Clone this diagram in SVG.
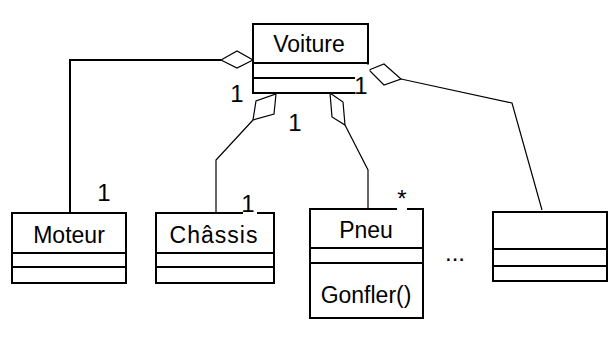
<svg xmlns="http://www.w3.org/2000/svg" width="616" height="338" viewBox="0 0 616 338">
<style>
.box{fill:#fff;stroke:#000;stroke-width:2}
.div{stroke:#000;stroke-width:2;fill:none}
.name{font-family:"Liberation Sans",Arial,sans-serif;font-size:23px;fill:#000;text-anchor:middle}
.lbl{font-family:"Liberation Sans",Arial,sans-serif;font-size:24px;fill:#000;text-anchor:middle}
.bg{fill:#fff;stroke:none}
.con{fill:none;stroke:#000;stroke-width:1.2}
.conb{fill:none;stroke:#000;stroke-width:2}
.dia{fill:#fff;stroke:#000;stroke-width:1.2}
</style>
<rect width="616" height="338" fill="#fff"/>
<g id="connectors">
<polyline class="conb" points="221,60 70,60 70,213"/>
<polygon class="dia" points="221,60 237,51 253,60 237,68"/>
<polyline class="con" points="253,120 216,160 216,213"/>
<polygon class="dia" points="276,94 274,114 253,120 256,101"/>
<polyline class="con" points="345,125 368,170 368,209"/>
<polygon class="dia" points="330,93 343,102 345,125 332,117"/>
<polyline class="con" points="401,79 512,103 542,210"/>
<polygon class="dia" points="369,70 384,64 401,79 384,85"/>
</g>
<g id="voiture">
<rect class="box" x="253" y="24" width="115" height="69"/>
<line class="div" x1="253" y1="63" x2="368" y2="63"/>
<line class="div" x1="253" y1="78" x2="355" y2="78"/>
<text class="name" x="309" y="52">Voiture</text>
</g>
<g id="moteur">
<rect class="box" x="12" y="213" width="114" height="70"/>
<line class="div" x1="12" y1="253" x2="126" y2="253"/>
<line class="div" x1="12" y1="267" x2="126" y2="267"/>
<text class="name" x="69" y="243">Moteur</text>
</g>
<g id="chassis">
<rect class="box" x="156" y="213" width="118" height="70"/>
<line class="div" x1="156" y1="253" x2="274" y2="253"/>
<line class="div" x1="156" y1="267" x2="274" y2="267"/>
<text class="name" x="214" y="243" letter-spacing="1">Châssis</text>
</g>
<g id="pneu">
<rect class="box" x="310" y="209" width="113" height="109"/>
<line class="div" x1="310" y1="248" x2="423" y2="248"/>
<line class="div" x1="310" y1="263" x2="423" y2="263"/>
<text class="name" x="366" y="238">Pneu</text>
<text class="name" x="366" y="303">Gonfler()</text>
</g>
<g id="autre">
<rect class="box" x="493" y="212" width="114" height="69"/>
<line class="div" x1="493" y1="249" x2="607" y2="249"/>
<line class="div" x1="493" y1="266" x2="607" y2="266"/>
</g>
<g id="labels">
<rect class="bg" x="355.5" y="64.5" width="14" height="30"/>
<text class="lbl" x="361" y="94">1</text>
<text class="lbl" x="237" y="102">1</text>
<text class="lbl" x="295" y="131">1</text>
<text class="lbl" x="104" y="201">1</text>
<rect class="bg" x="243" y="205" width="14" height="10"/>
<text class="lbl" x="248" y="212">1</text>
<rect class="bg" x="397" y="200" width="10" height="12"/>
<text class="lbl" x="402" y="207" font-size="17">*</text>
<text class="lbl" x="455" y="261" font-size="11">...</text>
</g>
</svg>
